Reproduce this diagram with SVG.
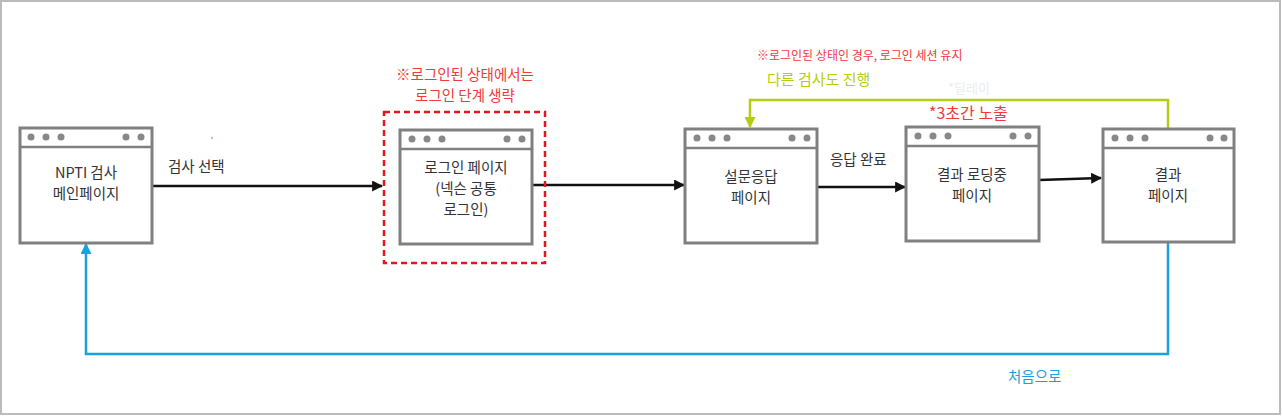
<svg xmlns="http://www.w3.org/2000/svg" width="1282" height="416" viewBox="0 0 1282 416">
<defs>
<style>
.win{fill:#fff;stroke:#808080;stroke-width:3}
.hdr{fill:none;stroke:#808080;stroke-width:2.5}
.dot{fill:#888}
.t{font-family:"Noto Sans CJK KR","Noto Sans",sans-serif;font-size:14.5px;fill:#333;text-anchor:middle}
.lbl{font-family:"Noto Sans CJK KR","Noto Sans",sans-serif;font-size:14.5px;fill:#333}
.red{font-family:"Noto Sans CJK KR","Noto Sans",sans-serif;fill:#f03a3a}
.blk{fill:none;stroke:#111;stroke-width:2.5}
</style>
<marker id="ab" viewBox="0 0 10 10" refX="9" refY="5" markerWidth="4.4" markerHeight="4.4" orient="auto"><path d="M0,0 L10,5 L0,10 z" fill="#111"/></marker>
<marker id="ay" viewBox="0 0 10 10" refX="9" refY="5" markerWidth="4.4" markerHeight="4.4" orient="auto"><path d="M0,0 L10,5 L0,10 z" fill="#b5cc12"/></marker>
<marker id="ac" viewBox="0 0 10 10" refX="9" refY="5" markerWidth="4.4" markerHeight="4.4" orient="auto"><path d="M0,0 L10,5 L0,10 z" fill="#1aa0dc"/></marker>
</defs>
<rect x="1" y="1" width="1279" height="413" fill="#fff" stroke="#bbb" stroke-width="2"/>

<g id="connectors">
<line class="blk" x1="152" y1="186" x2="382" y2="186" marker-end="url(#ab)"/>
<line class="blk" x1="532" y1="185" x2="684" y2="185" marker-end="url(#ab)"/>
<line class="blk" x1="817" y1="187" x2="905" y2="187" marker-end="url(#ab)"/>
<line class="blk" x1="1039" y1="180" x2="1101" y2="178" marker-end="url(#ab)"/>
<polyline points="1168,128 1168,100 750,100 750,127" fill="none" stroke="#b5cc12" stroke-width="2.5" marker-end="url(#ay)"/>
<polyline points="1168,243 1168,354 86,354 86,244" fill="none" stroke="#1aa0dc" stroke-width="2.5" marker-end="url(#ac)"/>
<text class="lbl" x="168" y="172">검사 선택</text>
<text class="lbl" x="830" y="165">응답 완료</text>
<text x="767" y="85" font-family="'Noto Sans CJK KR',sans-serif" font-size="15" fill="#b5cc12">다른 검사도 진행</text>
<text x="1008" y="382" font-family="'Noto Sans CJK KR',sans-serif" font-size="14.5" fill="#1aa0dc">처음으로</text>
</g>

<text class="red" x="757" y="60" font-size="12" fill="#f54848">※로그인된 상태인 경우, 로그인 세션 유지</text>
<text class="red" x="929" y="119" font-size="16">*3초간 노출</text>
<text x="948" y="93" font-family="'Noto Sans CJK KR',sans-serif" font-size="13" fill="#ececec">*딜레이</text>
<circle cx="212" cy="138" r="0.8" fill="#f03a3a"/>

<g id="node-main">
<rect class="win" x="20" y="128" width="132" height="115"/>
<line class="hdr" x1="20" y1="147" x2="152" y2="147"/>
<circle class="dot" cx="31" cy="137" r="3.5"/><circle class="dot" cx="46" cy="137" r="3.5"/><circle class="dot" cx="61" cy="137" r="3.5"/>
<circle class="dot" cx="126" cy="137" r="3.5"/><circle class="dot" cx="141" cy="137" r="3.5"/>
<text class="t" x="86" y="178">NPTI 검사<tspan x="86" dy="21.2">메인페이지</tspan></text>
</g>

<g id="node-login">
<rect x="384" y="112" width="161" height="151" fill="none" stroke="#e8141c" stroke-width="2.5" stroke-dasharray="6,4"/>
<text class="red" x="465" y="80" font-size="14.5" text-anchor="middle">※로그인된 상태에서는<tspan x="465" dy="21.2">로그인 단계 생략</tspan></text>
<rect class="win" x="400" y="130" width="132" height="114"/>
<line class="hdr" x1="400" y1="149" x2="532" y2="149"/>
<circle class="dot" cx="412" cy="139" r="3.5"/><circle class="dot" cx="427" cy="139" r="3.5"/><circle class="dot" cx="442" cy="139" r="3.5"/>
<circle class="dot" cx="507" cy="139" r="3.5"/><circle class="dot" cx="522" cy="139" r="3.5"/>
<text class="t" x="466" y="173">로그인 페이지<tspan x="466" dy="21.2">(넥슨 공통</tspan><tspan x="466" dy="21.2">로그인)</tspan></text>
</g>

<g id="node-survey">
<rect class="win" x="685" y="129" width="132" height="114"/>
<line class="hdr" x1="685" y1="148" x2="817" y2="148"/>
<circle class="dot" cx="697" cy="138" r="3.5"/><circle class="dot" cx="712" cy="138" r="3.5"/><circle class="dot" cx="727" cy="138" r="3.5"/>
<circle class="dot" cx="792" cy="138" r="3.5"/><circle class="dot" cx="807" cy="138" r="3.5"/>
<text class="t" x="751" y="182">설문응답<tspan x="751" dy="21.2">페이지</tspan></text>
</g>

<g id="node-loading">
<rect class="win" x="906" y="127" width="133" height="114"/>
<line class="hdr" x1="906" y1="146" x2="1039" y2="146"/>
<circle class="dot" cx="918" cy="136" r="3.5"/><circle class="dot" cx="933" cy="136" r="3.5"/><circle class="dot" cx="948" cy="136" r="3.5"/>
<circle class="dot" cx="1013" cy="136" r="3.5"/><circle class="dot" cx="1028" cy="136" r="3.5"/>
<text class="t" x="972" y="180">결과 로딩중<tspan x="972" dy="21.2">페이지</tspan></text>
</g>

<g id="node-result">
<rect class="win" x="1103" y="129" width="131" height="113"/>
<line class="hdr" x1="1103" y1="148" x2="1234" y2="148"/>
<circle class="dot" cx="1115" cy="138" r="3.5"/><circle class="dot" cx="1130" cy="138" r="3.5"/><circle class="dot" cx="1145" cy="138" r="3.5"/>
<circle class="dot" cx="1210" cy="138" r="3.5"/><circle class="dot" cx="1224" cy="138" r="3.5"/>
<text class="t" x="1168" y="180">결과<tspan x="1168" dy="21.2">페이지</tspan></text>
</g>
</svg>
